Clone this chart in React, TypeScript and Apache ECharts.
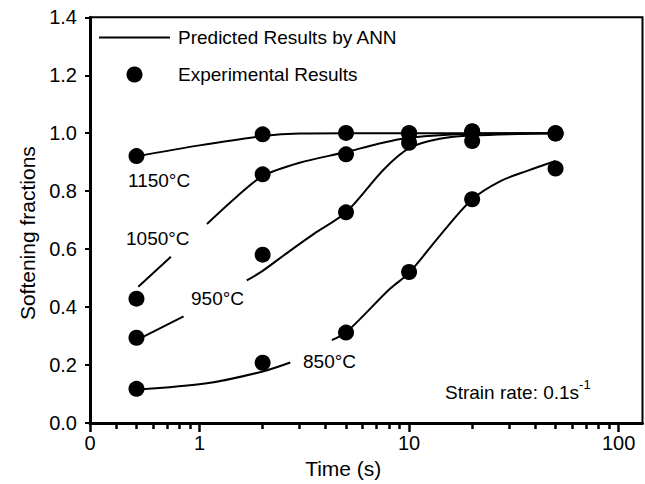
import React, { useEffect, useRef } from 'react';
import * as echarts from 'echarts';

// Experimental results (time in s, softening fraction)
const expTimes = [0.5, 2, 5, 10, 20, 50];
const exp1150 = [0.921, 0.996, 1.001, 1.0, 1.007, 0.999];
const exp1050 = [0.429, 0.858, 0.927, 1.0, 1.005, 1.0];
const exp950 = [0.294, 0.581, 0.727, 0.967, 0.973, 1.0];
const exp850 = [0.118, 0.208, 0.312, 0.521, 0.772, 0.878];

// ANN predicted curves (segments, gaps left for labels)
const ann1150T = [0.5, 1, 2, 3, 5, 10, 20, 50];
const ann1150V = [0.92, 0.958, 0.99, 0.999, 1.0, 1.0, 1.0, 1.0];
const ann1050aT = [0.51, 0.73];
const ann1050aV = [0.47, 0.574];
const ann1050bT = [1.085, 1.5, 2, 3, 5, 7, 10, 20, 50];
const ann1050bV = [0.687, 0.78, 0.852, 0.898, 0.935, 0.962, 0.984, 0.998, 1.0];
const ann950aT = [0.54, 0.839];
const ann950aV = [0.298, 0.368];
const ann950bT = [1.68, 2, 2.71, 3.5, 5, 7.57, 10.1, 14, 20, 50];
const ann950bV = [0.492, 0.525, 0.595, 0.652, 0.727, 0.875, 0.95, 0.981, 0.992, 1.0];
const ann850aT = [0.5, 1.085, 1.98, 2.71];
const ann850aV = [0.115, 0.137, 0.177, 0.209];
const ann850bT = [4.28, 5, 8.1, 10, 14, 20, 27.3, 36.6, 50];
const ann850bV = [0.286, 0.312, 0.463, 0.518, 0.646, 0.772, 0.835, 0.87, 0.904];

// Axis ticks
const xMajorTicks = [0.3, 1, 10, 100];
const xMajorLabels = ['0', '1', '10', '100'];
const xMinorTicks = [0.4, 0.5, 0.6, 0.7, 0.8, 0.9, 2, 3, 4, 5, 6, 7, 8, 9, 20, 30, 40, 50, 60, 70, 80, 90];

const LINE_NAME = 'Predicted Results by ANN';
const DOT_NAME = 'Experimental Results';
const FONT = 'Liberation Sans, Arial, sans-serif';

const pairs = (t: number[], v: number[]) => t.map((x, i) => [x, v[i]]);

export default function App() {
  const ref = useRef<HTMLDivElement>(null);
  useEffect(() => {
    if (!ref.current) return;
    const chart = echarts.init(ref.current, undefined, { renderer: 'svg' });
    const segments = [
      pairs(ann1150T, ann1150V),
      pairs(ann1050aT, ann1050aV),
      pairs(ann1050bT, ann1050bV),
      pairs(ann950aT, ann950aV),
      pairs(ann950bT, ann950bV),
      pairs(ann850aT, ann850aV),
      pairs(ann850bT, ann850bV),
    ];
    const dots = [exp1150, exp1050, exp950, exp850].flatMap((arr) => pairs(expTimes, arr));
    const labelText = (x: number, y: number, text: string) => ({
      type: 'text',
      x,
      y,
      style: { text, fontSize: 19, fontFamily: FONT, fill: '#000', align: 'left', verticalAlign: 'middle' },
    });
    chart.setOption({
      animation: false,
      textStyle: { fontFamily: FONT, color: '#000' },
      grid: { left: 90, right: 2.5, top: 17.3, bottom: 59, show: true, borderColor: '#000', borderWidth: 2 },
      legend: {
        data: [
          { name: LINE_NAME, icon: 'path://M0,0H71V2H0Z' },
          { name: DOT_NAME, icon: 'circle' },
        ],
        orient: 'vertical',
        left: 99,
        top: 28,
        padding: 0,
        itemWidth: 71,
        itemHeight: 16,
        itemGap: 18,
        textStyle: { fontSize: 19, color: '#000', fontFamily: FONT, padding: [0, 0, 0, 3] },
      },
      xAxis: [
        {
          type: 'log',
          logBase: 10,
          min: 0.3,
          max: 130,
          position: 'bottom',
          axisLine: { show: true, lineStyle: { color: '#000', width: 3 } },
          axisTick: { show: true, customValues: xMajorTicks, length: 9, lineStyle: { color: '#000', width: 2.5 } },
          axisLabel: {
            customValues: xMajorTicks,
            fontSize: 20,
            color: '#000',
            margin: 10,
            formatter: (v: number) => {
              const i = xMajorTicks.findIndex((t) => Math.abs(Math.log10(t) - Math.log10(v)) < 1e-6);
              return i >= 0 ? xMajorLabels[i] : '';
            },
          },
          splitLine: { show: false },
          name: 'Time (s)',
          nameLocation: 'middle',
          nameGap: 35,
          nameTextStyle: { fontSize: 21, color: '#000', padding: [0, 46, 0, 0] },
        },
        {
          type: 'log',
          logBase: 10,
          min: 0.3,
          max: 130,
          position: 'bottom',
          axisLine: { show: false },
          axisTick: { show: true, customValues: xMinorTicks, length: 6, lineStyle: { color: '#000', width: 2.5 } },
          axisLabel: { show: false },
          splitLine: { show: false },
        },
      ],
      yAxis: {
        type: 'value',
        min: 0,
        max: 1.4,
        interval: 0.2,
        axisLine: { show: true, lineStyle: { color: '#000', width: 3 } },
        axisTick: { show: true, length: 5, lineStyle: { color: '#000', width: 2 } },
        axisLabel: { fontSize: 20, color: '#000', margin: 13, formatter: (v: number) => v.toFixed(1) },
        splitLine: { show: false },
        name: 'Softening fractions',
        nameLocation: 'middle',
        nameGap: 52,
        nameTextStyle: { fontSize: 21, color: '#000', padding: [0, 26, 0, 0] },
      },
      series: [
        ...segments.map((data) => ({
          name: LINE_NAME,
          type: 'line',
          data,
          xAxisIndex: 0,
          smooth: 0.3,
          symbol: 'none',
          lineStyle: { color: '#000', width: 2 },
          itemStyle: { color: '#000' },
          z: 2,
        })),
        {
          name: DOT_NAME,
          type: 'scatter',
          data: dots,
          xAxisIndex: 0,
          symbol: 'circle',
          symbolSize: 16,
          itemStyle: { color: '#000', opacity: 1 },
          z: 3,
        },
      ],
      graphic: [
        labelText(128, 180, '1150°C'),
        labelText(126, 238, '1050°C'),
        labelText(191, 298, '950°C'),
        labelText(303, 361, '850°C'),
        {
          type: 'text',
          x: 445,
          y: 390,
          style: {
            text: '{a|Strain rate: 0.1s}{b|-1}',
            fontFamily: FONT,
            fill: '#000',
            align: 'left',
            verticalAlign: 'middle',
            rich: {
              a: { fontSize: 19, fontFamily: FONT, fill: '#000', lineHeight: 24, verticalAlign: 'bottom' },
              b: { fontSize: 13, fontFamily: FONT, fill: '#000', lineHeight: 24, verticalAlign: 'top' },
            },
          },
        },
      ],
    });
    return () => chart.dispose();
  }, []);
  return <div ref={ref} style={{ position: 'absolute', left: 0, top: 0, width: 645, height: 484 }} />;
}
